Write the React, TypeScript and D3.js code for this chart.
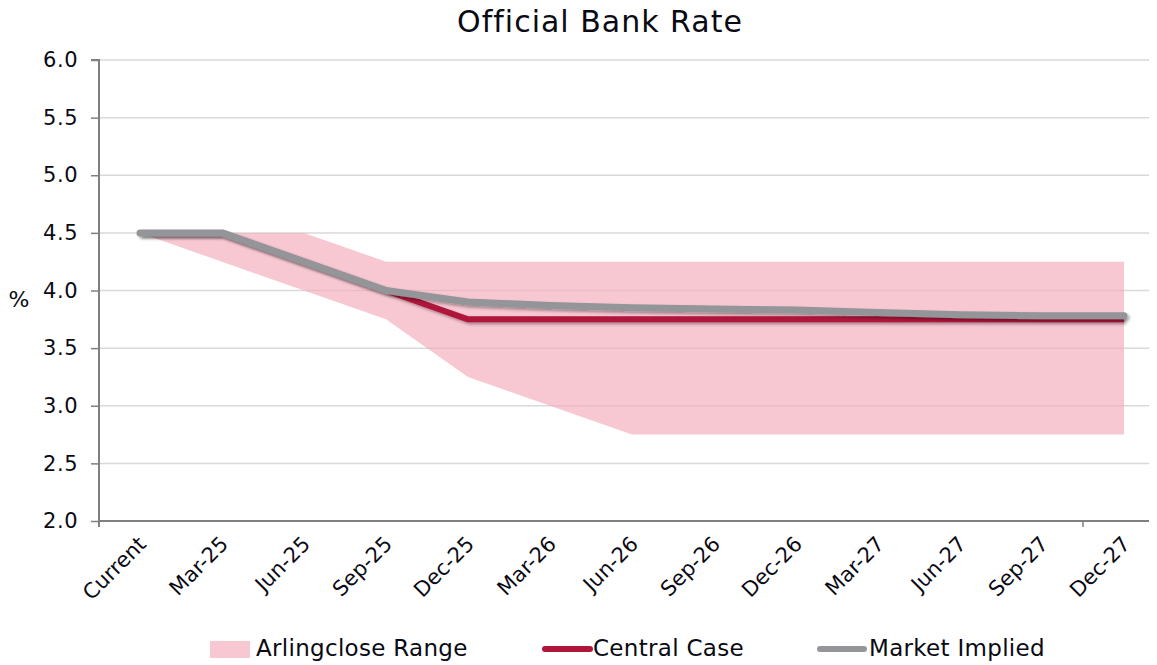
import { useEffect, useRef } from 'react';
import * as d3 from 'd3';

const categories = ['Current', 'Mar-25', 'Jun-25', 'Sep-25', 'Dec-25', 'Mar-26', 'Jun-26', 'Sep-26', 'Dec-26', 'Mar-27', 'Jun-27', 'Sep-27', 'Dec-27'];
const rangeUpper = [4.5, 4.5, 4.5, 4.25, 4.25, 4.25, 4.25, 4.25, 4.25, 4.25, 4.25, 4.25, 4.25];
const rangeLower = [4.5, 4.25, 4.0, 3.75, 3.25, 3.0, 2.75, 2.75, 2.75, 2.75, 2.75, 2.75, 2.75];
const centralCase = [4.5, 4.5, 4.25, 4.0, 3.75, 3.75, 3.75, 3.75, 3.75, 3.75, 3.75, 3.75, 3.75];
const marketImplied = [4.5, 4.5, 4.25, 4.0, 3.9, 3.87, 3.85, 3.84, 3.83, 3.81, 3.79, 3.78, 3.78];
const yTicks = [2.0, 2.5, 3.0, 3.5, 4.0, 4.5, 5.0, 5.5, 6.0];

const App = () => {
  const svgRef = useRef<SVGSVGElement>(null);

  useEffect(() => {
    const svg = d3.select(svgRef.current);
    svg.selectAll('*').remove();

    const width = 1157;
    const height = 665;
    const left = 99;
    const top = 60;
    const bottom = 521;
    const font = 'Tahoma, "DejaVu Sans", sans-serif';
    const textColor = '#0a0a14';

    svg.attr('width', width).attr('height', height);

    // soft shadow under the lines
    const defs = svg.append('defs');
    const f = defs.append('filter').attr('id', 'shadow').attr('x', '-5%').attr('y', '-50%').attr('width', '110%').attr('height', '200%');
    f.append('feDropShadow').attr('dx', 2).attr('dy', 2).attr('stdDeviation', 1.5).attr('flood-color', '#000').attr('flood-opacity', 0.35);

    const x = d3.scaleBand<string>().domain(categories).range([left, left + 13 * 82]).padding(0);
    const cx = (c: string) => (x(c) as number) + x.bandwidth() / 2;
    const y = d3.scaleLinear().domain([2, 6]).range([bottom, top]);

    // gridlines
    svg.append('g')
      .selectAll('line')
      .data(yTicks.slice(1))
      .enter()
      .append('line')
      .attr('x1', left)
      .attr('x2', width)
      .attr('y1', d => y(d))
      .attr('y2', d => y(d))
      .attr('stroke', '#d9d9d9')
      .attr('stroke-width', 1.5);

    // range area
    const area = d3.area<number>()
      .x((_, i) => cx(categories[i]))
      .y0((_, i) => y(rangeLower[i]))
      .y1(d => y(d));
    svg.append('path')
      .datum(rangeUpper)
      .attr('d', area)
      .attr('fill', '#f2a9ba')
      .attr('fill-opacity', 0.65);

    const line = d3.line<number>()
      .x((_, i) => cx(categories[i]))
      .y(d => y(d));

    svg.append('path')
      .datum(centralCase)
      .attr('d', line)
      .attr('fill', 'none')
      .attr('stroke', '#b0153a')
      .attr('stroke-width', 6)
      .attr('stroke-linejoin', 'round')
      .attr('filter', 'url(#shadow)');

    svg.append('path')
      .datum(marketImplied)
      .attr('d', line)
      .attr('fill', 'none')
      .attr('stroke', '#939598')
      .attr('stroke-width', 7)
      .attr('stroke-linejoin', 'round')
      .attr('stroke-linecap', 'round')
      .attr('filter', 'url(#shadow)');

    // y axis
    const yAxis = svg.append('g').attr('transform', `translate(${left},0)`)
      .call(d3.axisLeft(y).tickValues(yTicks).tickFormat(d3.format('.1f')).tickSize(8).tickPadding(13));
    yAxis.select('.domain').attr('stroke', '#808080').attr('stroke-width', 2).attr('d', `M-8,${top}H0V${bottom + 6}`);
    yAxis.selectAll('.tick line').attr('stroke', '#808080').attr('stroke-width', 1.5);
    yAxis.selectAll('.tick text').attr('font-family', font).attr('font-size', 21).attr('letter-spacing', 0.5).attr('fill', textColor);

    // x axis line
    svg.append('line')
      .attr('x1', left).attr('x2', width)
      .attr('y1', bottom).attr('y2', bottom)
      .attr('stroke', '#808080').attr('stroke-width', 2);
    svg.append('line')
      .attr('x1', left + 12 * 82).attr('x2', left + 12 * 82)
      .attr('y1', bottom).attr('y2', bottom + 6)
      .attr('stroke', '#808080').attr('stroke-width', 1.5);

    svg.append('g')
      .selectAll('text')
      .data(categories)
      .enter()
      .append('text')
      .attr('transform', d => `translate(${cx(d) - 3},${bottom + 14}) rotate(-45)`)
      .attr('text-anchor', 'end')
      .attr('dy', '0.7em')
      .attr('font-family', font)
      .attr('font-size', 21)
      .attr('fill', textColor)
      .text(d => d);

    // y label
    svg.append('text')
      .attr('x', 19).attr('y', 301)
      .attr('text-anchor', 'middle')
      .attr('dominant-baseline', 'middle')
      .attr('font-family', font).attr('font-size', 22)
      .attr('fill', textColor)
      .text('%');

    // title
    svg.append('text')
      .attr('x', 600).attr('y', 23)
      .attr('text-anchor', 'middle')
      .attr('dominant-baseline', 'middle')
      .attr('font-family', font).attr('font-size', 30)
      .attr('letter-spacing', 1)
      .attr('fill', textColor)
      .text('Official Bank Rate');

    // legend
    const ly = 649;
    const lg = svg.append('g').attr('font-family', font).attr('font-size', 23).attr('letter-spacing', 0.3).attr('fill', textColor);
    lg.append('rect').attr('x', 210).attr('y', ly - 8).attr('width', 40).attr('height', 17).attr('fill', '#f2a9ba').attr('fill-opacity', 0.65);
    lg.append('text').attr('x', 256).attr('y', ly).attr('dominant-baseline', 'middle').text('Arlingclose Range');
    lg.append('line').attr('x1', 545).attr('x2', 590).attr('y1', ly).attr('y2', ly)
      .attr('stroke', '#b0153a').attr('stroke-width', 6).attr('stroke-linecap', 'round');
    lg.append('text').attr('x', 593).attr('y', ly).attr('dominant-baseline', 'middle').text('Central Case');
    lg.append('line').attr('x1', 820).attr('x2', 864).attr('y1', ly).attr('y2', ly)
      .attr('stroke', '#939598').attr('stroke-width', 6).attr('stroke-linecap', 'round');
    lg.append('text').attr('x', 869).attr('y', ly).attr('dominant-baseline', 'middle').text('Market Implied');
  }, []);

  return (
    <div style={{ margin: -8 }}>
      <svg ref={svgRef}></svg>
    </div>
  );
};

export default App;
